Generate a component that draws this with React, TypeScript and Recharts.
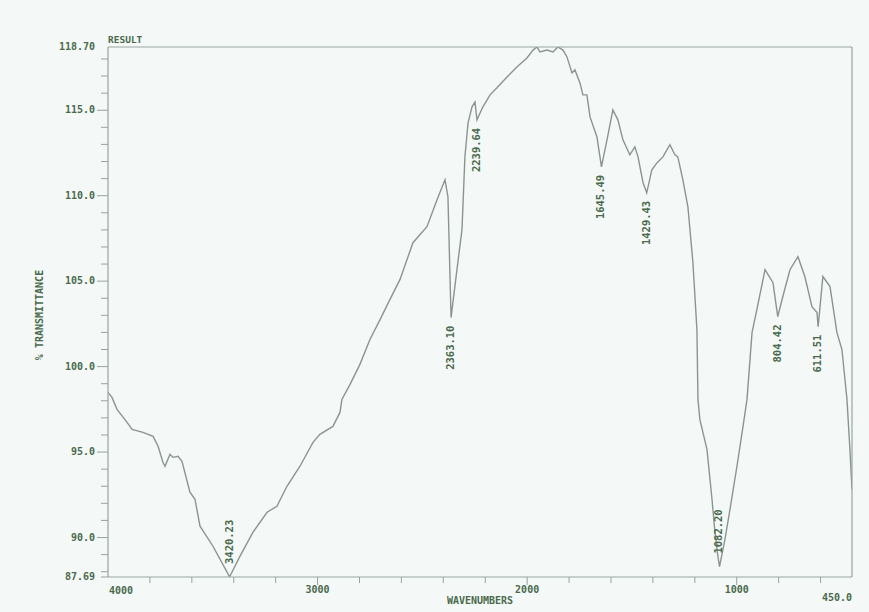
import { LineChart, Line, XAxis, YAxis } from 'recharts'

// IR spectrum, wavenumber (cm-1) vs % transmittance
const wavenumbers = [
  4000, 3981, 3957, 3909, 3885, 3833, 3785, 3761, 3738, 3728,
  3704, 3690, 3666, 3647, 3609, 3585, 3561, 3499, 3432, 3420.23,
  3370, 3308, 3241, 3194, 3146, 3084, 3022, 2989, 2927, 2893,
  2884, 2845, 2798, 2750, 2702, 2655, 2607, 2545, 2478, 2430,
  2392, 2378, 2363.1, 2335, 2311, 2297, 2282, 2263, 2249, 2239.64,
  2211, 2177, 2144, 2096, 2049, 2001, 1972, 1953, 1939, 1906,
  1877, 1853, 1829, 1810, 1786, 1772, 1748, 1734, 1715, 1700,
  1667, 1645.49, 1619, 1591, 1567, 1543, 1510, 1486, 1471, 1447,
  1429.43, 1405, 1381, 1352, 1319, 1295, 1281, 1257, 1233, 1209,
  1190, 1185, 1176, 1142, 1118, 1104, 1090, 1082.2, 1056, 1032,
  999, 970, 951, 927, 904, 865, 827, 804.42, 780, 746,
  708, 675, 641, 617, 611.51, 589, 555, 522, 498, 474,
  460, 450,
]

const transmittance = [
  98.49, 98.2, 97.5, 96.74, 96.33, 96.15, 95.92, 95.34, 94.4, 94.17,
  94.87, 94.69, 94.75, 94.46, 92.65, 92.24, 90.66, 89.49, 87.98, 87.69,
  88.91, 90.31, 91.48, 91.83, 93.0, 94.17, 95.57, 96.04, 96.5, 97.32,
  98.08, 98.96, 100.13, 101.59, 102.75, 103.92, 105.09, 107.25, 108.19, 109.76,
  110.93, 109.94, 102.87, 105.67, 108.01, 112.27, 114.26, 115.2, 115.49, 114.44,
  115.2, 115.9, 116.31, 116.95, 117.53, 118.06, 118.52, 118.7, 118.41, 118.52,
  118.41, 118.7, 118.52, 118.12, 117.18, 117.36, 116.6, 115.9, 115.9, 114.61,
  113.44, 111.69, 113.27, 115.02, 114.44, 113.27, 112.39, 112.86, 112.27, 110.76,
  110.17, 111.52, 111.92, 112.27, 112.98, 112.39, 112.27, 110.93, 109.35, 106.08,
  102.17, 98.08, 96.91, 95.16, 92.24, 90.31, 88.91, 88.3, 89.9, 91.66,
  94.17, 96.5, 98.08, 101.99, 103.34, 105.67, 104.91, 102.93, 104.1, 105.67,
  106.43, 105.27, 103.51, 103.16, 102.34, 105.27, 104.68, 102.0, 101.0, 98.08,
  95.16, 92.8,
]

const peakWavenumbers = [3420.23, 2363.1, 2239.64, 1645.49, 1429.43, 1082.2, 804.42, 611.51]
const peakTexts = ['3420.23', '2363.10', '2239.64', '1645.49', '1429.43', '1082.20', '804.42', '611.51']
const peaksLabelledAbove = [3420.23, 1082.2]

const xTicks = [4000, 3800, 3600, 3400, 3200, 3000, 2800, 2600, 2400, 2200, 2000, 1800, 1600, 1400, 1200, 1000, 800, 600, 450]
const yTicks = [
  87.69, 88, 89, 90, 91, 92, 93, 94, 95, 96, 97, 98, 99, 100, 101, 102, 103,
  104, 105, 106, 107, 108, 109, 110, 111, 112, 113, 114, 115, 116, 117, 118, 118.7,
]

const X_DOMAIN = [450, 4000]
const Y_DOMAIN = [87.69, 118.7]

const data = wavenumbers.map((wn, i) => ({ wn, t: transmittance[i] }))

const FONT = '"DejaVu Sans Mono", monospace'
const TEXT = '#4a6a4c'
const FRAME = '#98a59b'
const TRACE = '#8b958f'

function YTick({ x, y, payload }: any) {
  const v = payload.value
  const major = Number.isInteger(v) && v % 5 === 0
  let label = ''
  if (major) label = v.toFixed(1)
  if (v === 118.7) label = '118.70'
  if (v === 87.69) label = '87.69'
  const showLine = v !== 118.7
  return (
    <g>
      {showLine && <line x1={x - (major ? 11 : 7)} y1={y} x2={x} y2={y} stroke={FRAME} strokeWidth={1} />}
      {label && (
        <text x={x - 13} y={y} textAnchor="end" dominantBaseline="middle" fill={TEXT}
          fontFamily={FONT} fontSize={10} fontWeight="bold">
          {label}
        </text>
      )}
    </g>
  )
}

function XTick({ x, y, payload }: any) {
  const v = payload.value
  const major = v % 1000 === 0
  let label = null
  if (v === 4000) {
    label = <text x={x + 1} y={y + 14} textAnchor="start" dominantBaseline="middle" fill={TEXT} fontFamily={FONT} fontSize={10} fontWeight="bold">4000</text>
  } else if (major) {
    label = <text x={x} y={y + 13} textAnchor="middle" dominantBaseline="middle" fill={TEXT} fontFamily={FONT} fontSize={10} fontWeight="bold">{v}</text>
  } else if (v === 450) {
    label = <text x={x} y={y + 21} textAnchor="end" dominantBaseline="middle" fill={TEXT} fontFamily={FONT} fontSize={10} fontWeight="bold">450.0</text>
  }
  return (
    <g>
      {v !== 450 && v !== 4000 && <line x1={x} y1={y} x2={x} y2={y + (major ? 8 : 6)} stroke={FRAME} strokeWidth={1} />}
      {label}
    </g>
  )
}

function PeakLabel({ x, y, index }: any) {
  const wn = data[index]?.wn
  const k = peakWavenumbers.indexOf(wn)
  if (k < 0) return null
  const above = peaksLabelledAbove.includes(wn)
  const ay = above ? y - 13 : y + 8
  return (
    <text x={x} y={ay} transform={`rotate(-90, ${x}, ${ay})`} textAnchor={above ? 'start' : 'end'}
      dominantBaseline="middle" fill={TEXT} fontFamily={FONT} fontSize={10.5} fontWeight="bold">
      {peakTexts[k]}
    </text>
  )
}

export default function App() {
  return (
    <div style={{ position: 'absolute', left: 0, top: 0, width: 869, height: 612, background: '#f4f8f7' }}>
      <LineChart width={869} height={612} data={data} margin={{ top: 27, right: 7, bottom: 5, left: 48 }}>
        <XAxis
          dataKey="wn" type="number" domain={X_DOMAIN} reversed allowDataOverflow
          ticks={xTicks} interval={0} tick={<XTick />} tickSize={0} tickMargin={0} tickLine={false}
          height={30} axisLine={{ stroke: FRAME, strokeWidth: 1.2 }}
          label={{
            content: ({ viewBox }: any) => (
              <text x={viewBox.x + viewBox.width / 2} y={viewBox.y + 24} textAnchor="middle"
                dominantBaseline="middle" fill={TEXT} fontFamily={FONT} fontSize={10} fontWeight="bold">
                WAVENUMBERS
              </text>
            ),
          }}
        />
        <XAxis
          xAxisId="top" orientation="top" type="number" domain={X_DOMAIN} reversed
          tick={false} tickLine={false} height={20} axisLine={{ stroke: FRAME, strokeWidth: 1.2 }}
          label={{
            content: ({ viewBox }: any) => (
              <text x={viewBox.x} y={viewBox.y + viewBox.height - 7} textAnchor="start"
                dominantBaseline="middle" fill={TEXT} fontFamily={FONT} fontSize={9.5} fontWeight="bold">
                RESULT
              </text>
            ),
          }}
        />
        <YAxis
          dataKey="t" type="number" domain={Y_DOMAIN} allowDataOverflow
          ticks={yTicks} interval={0} tick={<YTick />} tickSize={0} tickMargin={0} tickLine={false}
          width={60} axisLine={{ stroke: FRAME, strokeWidth: 1.2 }}
          label={{
            content: ({ viewBox }: any) => {
              const cx = viewBox.x - 8
              const cy = viewBox.y + viewBox.height / 2 + 3
              return (
                <text x={cx} y={cy} transform={`rotate(-90, ${cx}, ${cy})`} textAnchor="middle"
                  dominantBaseline="middle" fill={TEXT} fontFamily={FONT} fontSize={10} fontWeight="bold">
                  % TRANSMITTANCE
                </text>
              )
            },
          }}
        />
        <YAxis
          yAxisId="right" orientation="right" type="number" domain={Y_DOMAIN}
          tick={false} tickLine={false} width={10} axisLine={{ stroke: FRAME, strokeWidth: 1.2 }}
        />
        <Line
          type="linear" dataKey="t" stroke={TRACE} strokeWidth={1.4} dot={false}
          isAnimationActive={false} label={(props: any) => <PeakLabel key={props.index} {...props} />}
        />
      </LineChart>
    </div>
  )
}
